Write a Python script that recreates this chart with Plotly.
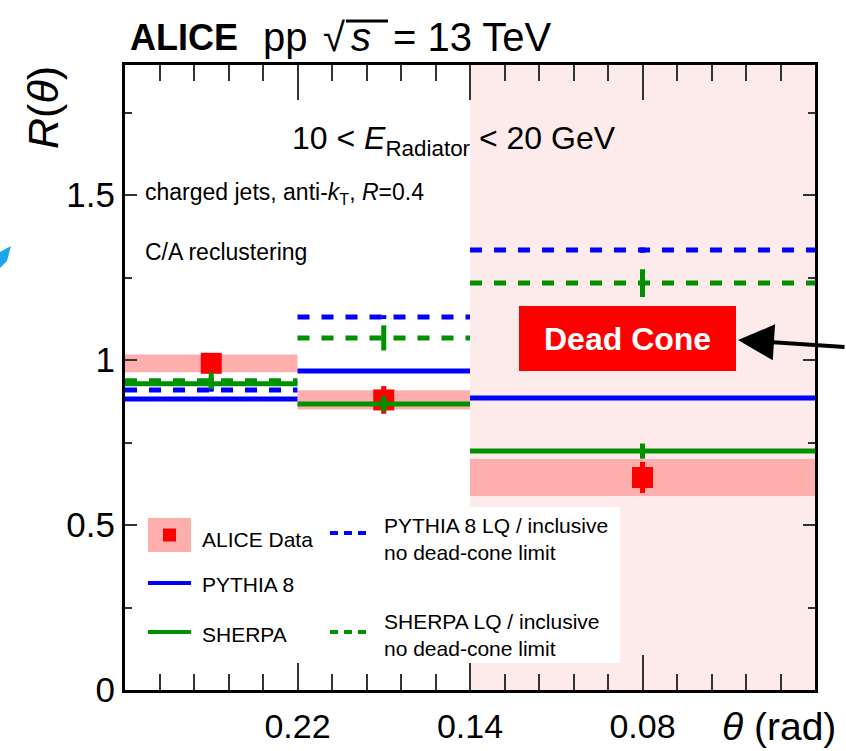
import plotly.graph_objects as go

# ---------------- data ----------------
bin_lo = [0, 1, 2]
bin_hi = [1, 2, 4]
bin_center = [0.5, 1.5, 3]
tick_vals = [1, 2, 3]
tick_text = ["0.22", "0.14", "0.08"]
y_tick_vals = [0, 0.5, 1, 1.5]
y_tick_text = ["0", "0.5", "1", "1.5"]

alice = [0.99, 0.879, 0.644]
alice_stat = [0.02, 0.042, 0.047]
alice_syst = [0.027, 0.029, 0.056]

pythia = [0.882, 0.967, 0.885]
pythia_err = [0.004, 0.004, 0.004]
pythia_lq = [0.909, 1.130, 1.333]
pythia_lq_err = [0.005, 0.006, 0.008]
sherpa = [0.928, 0.867, 0.724]
sherpa_err = [0.02, 0.023, 0.023]
sherpa_lq = [0.937, 1.067, 1.233]
sherpa_lq_err = [0.025, 0.038, 0.042]

# ---------------- style ----------------
W, H = 846, 751
ML, MR, MT, MB = 125, 31, 65, 61
FONT = "Liberation Sans, Arial, sans-serif"
BLUE = "#0000ff"
GREEN = "#009100"
RED = "#ff0000"
BAND = "#ffaeae"
PINK = "#fdebeb"


def px(x):
    return (x - ML) / (W - ML - MR)


def py(y):
    return (H - MB - y) / (H - MT - MB)


def seg(vals):
    xs, ys = [], []
    for lo, hi, v in zip(bin_lo, bin_hi, vals):
        xs += [lo, hi, None]
        ys += [v, v, None]
    return xs, ys


fig = go.Figure()

# systematic bands
bx, by = [], []
for lo, hi, v, s in zip(bin_lo, bin_hi, alice, alice_syst):
    bx += [lo, hi, hi, lo, lo, None]
    by += [v - s, v - s, v + s, v + s, v - s, None]
fig.add_trace(go.Scatter(x=bx, y=by, mode="lines", fill="toself", fillcolor=BAND,
                         line=dict(width=0), hoverinfo="skip", showlegend=False))

# data points
fig.add_trace(go.Scatter(x=bin_center, y=alice, mode="markers",
                         marker=dict(symbol="square", size=21, color=RED),
                         error_y=dict(type="data", array=alice_stat, color=RED, thickness=5, width=0),
                         showlegend=False))

# MC lines
for vals, errs, color, dash in [
    (pythia, pythia_err, BLUE, "solid"),
    (sherpa, sherpa_err, GREEN, "solid"),
    (pythia_lq, pythia_lq_err, BLUE, "12px,12px"),
    (sherpa_lq, sherpa_lq_err, GREEN, "12px,12px"),
]:
    xs, ys = seg(vals)
    fig.add_trace(go.Scatter(x=xs, y=ys, mode="lines", line=dict(color=color, width=5, dash=dash),
                             showlegend=False, hoverinfo="skip"))
    fig.add_trace(go.Scatter(x=bin_center, y=vals, mode="markers",
                             marker=dict(size=1, color=color),
                             error_y=dict(type="data", array=errs, color=color, thickness=5, width=0),
                             showlegend=False))

shapes = []
# shaded dead-cone region
shapes.append(dict(type="rect", xref="x", yref="paper", x0=2, x1=4, y0=0, y1=1,
                   fillcolor=PINK, line=dict(width=0), layer="below"))
# legend background box
shapes.append(dict(type="rect", xref="paper", yref="paper", x0=px(140), x1=px(620), y0=py(663), y1=py(507),
                   fillcolor="white", line=dict(width=0), layer="above"))
# legend samples
shapes.append(dict(type="rect", xref="paper", yref="paper", x0=px(148), x1=px(191), y0=py(552), y1=py(518),
                   fillcolor=BAND, line=dict(width=0), layer="above"))
shapes.append(dict(type="rect", xref="paper", yref="paper", x0=px(163), x1=px(176), y0=py(541.5), y1=py(528.5),
                   fillcolor=RED, line=dict(width=0), layer="above"))
shapes.append(dict(type="line", xref="paper", yref="paper", x0=px(148), x1=px(191), y0=py(583), y1=py(583),
                   line=dict(color=BLUE, width=4), layer="above"))
shapes.append(dict(type="line", xref="paper", yref="paper", x0=px(148), x1=px(191), y0=py(632), y1=py(632),
                   line=dict(color=GREEN, width=4), layer="above"))
shapes.append(dict(type="line", xref="paper", yref="paper", x0=px(330), x1=px(367), y0=py(533), y1=py(533),
                   line=dict(color=BLUE, width=4, dash="8px,6px"), layer="above"))
shapes.append(dict(type="line", xref="paper", yref="paper", x0=px(330), x1=px(367), y0=py(632), y1=py(632),
                   line=dict(color=GREEN, width=4, dash="8px,6px"), layer="above"))
# dead cone box
shapes.append(dict(type="rect", xref="paper", yref="paper", x0=px(519), x1=px(736), y0=py(371), y1=py(306),
                   fillcolor=RED, line=dict(width=0), layer="above"))
# overbar of sqrt(s)
shapes.append(dict(type="line", xref="paper", yref="paper", x0=px(346), x1=px(388), y0=py(21), y1=py(21),
                   line=dict(color="black", width=3), layer="above"))
# fragment at left edge
shapes.append(dict(type="path", xref="paper", yref="paper",
                   path=f"M {px(0)} {py(252)} L {px(11)} {py(246)} L {px(7)} {py(261)} L {px(0)} {py(268)} Z",
                   fillcolor="#1aa7ec", line=dict(width=0), layer="above"))

annotations = []


def txt(text, x, y, size, xanchor="left", color="black", **kw):
    annotations.append(dict(text=text, x=px(x), y=py(y), xref="paper", yref="paper",
                            xanchor=xanchor, yanchor="middle", showarrow=False, align="left",
                            font=dict(family=FONT, size=size, color=color), **kw))


txt("<b>ALICE</b>", 128, 37, 36)
txt("pp", 261, 37, 40)
txt("√", 321, 37, 40)
txt("<i>s</i>", 349, 37, 40)
txt("= 13 TeV", 391, 37, 40)
txt("<i>R</i>(<i>θ</i>)", 43, 108, 43, xanchor="center", textangle=-90)
txt("<i>θ</i> (rad)", 838, 726, 39, xanchor="right")
txt("10 &lt; <i>E</i><sub>Radiator</sub> &lt; 20 GeV", 290, 140, 32)
txt("charged jets, anti-<i>k</i><sub>T</sub>, <i>R</i>=0.4", 143, 193, 23)
txt("C/A reclustering", 143, 252, 23)
txt("ALICE Data", 200, 539, 21)
txt("PYTHIA 8", 200, 584, 21)
txt("SHERPA", 200, 634, 21)
txt("PYTHIA 8 LQ / inclusive<br>no dead-cone limit", 382, 539, 21)
txt("SHERPA LQ / inclusive<br>no dead-cone limit", 382, 635, 21)
txt("<b>Dead Cone</b>", 627.5, 339, 32, xanchor="center", color="white")

# arrow
annotations.append(dict(x=px(738), y=py(340), xref="paper", yref="paper", text="",
                        showarrow=True, ax=110, ay=7, arrowhead=2, arrowsize=1.8,
                        arrowwidth=4, arrowcolor="black"))

fig.update_layout(
    width=W, height=H,
    margin=dict(l=ML, r=MR, t=MT, b=MB, pad=0),
    paper_bgcolor="white", plot_bgcolor="white",
    font=dict(family=FONT, color="black"),
    showlegend=False,
    shapes=shapes, annotations=annotations,
    xaxis=dict(range=[0, 4], tickmode="array", tickvals=tick_vals, ticktext=tick_text,
               ticks="inside", ticklen=35, tickwidth=2, tickcolor="#333",
               showline=True, linewidth=3, linecolor="black", mirror="ticks",
               showgrid=False, zeroline=False, tickfont=dict(size=34, family=FONT),
               ticklabelstandoff=4, automargin=False,
               minor=dict(tickmode="linear", tick0=0, dtick=0.2, ticks="inside", ticklen=16,
                          tickwidth=2, tickcolor="#333", showgrid=False)),
    yaxis=dict(range=[0, 1.894], tickmode="array", tickvals=y_tick_vals, ticktext=y_tick_text,
               ticks="inside", ticklen=12, tickwidth=2, tickcolor="#333",
               showline=True, linewidth=3, linecolor="black", mirror="ticks",
               showgrid=False, zeroline=False, tickfont=dict(size=35, family=FONT),
               ticklabelstandoff=0, automargin=False,
               minor=dict(tickmode="linear", tick0=0, dtick=0.25, ticks="inside", ticklen=7,
                          tickwidth=2, tickcolor="#333", showgrid=False)),
)

fig.write_html("out.html")
